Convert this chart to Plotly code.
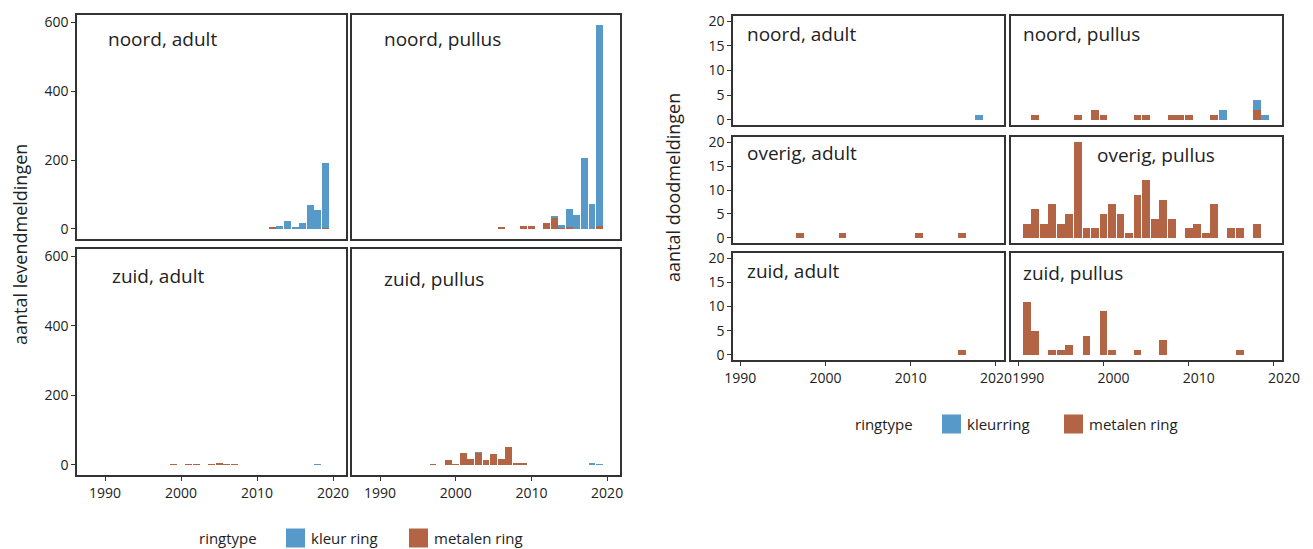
import plotly.graph_objects as go

W, H = 1313, 549
OFF = 8  # the page body adds an 8px margin around the figure
BLUE = "#5799C9"
BROWN = "#B36444"
INK = "#222222"
FONT = "Open Sans"

# ---------------- data: levendmeldingen (left block) ----------------
lev_noord_adult_kleur_years = [2013, 2014, 2015, 2016, 2017, 2018, 2019]
lev_noord_adult_kleur = [8, 22, 6, 18, 70, 56, 190]
lev_noord_adult_metaal_years = [2012, 2019]
lev_noord_adult_metaal = [4, 2]

lev_noord_pullus_kleur_years = [2013, 2014, 2015, 2016, 2017, 2018, 2019]
lev_noord_pullus_kleur = [3, 10, 54, 39, 207, 73, 585]
lev_noord_pullus_metaal_years = [2006, 2009, 2010, 2012, 2013, 2014, 2015, 2019]
lev_noord_pullus_metaal = [3, 7, 7, 16, 34, 2, 5, 7]

lev_zuid_adult_kleur_years = [2018]
lev_zuid_adult_kleur = [1]
lev_zuid_adult_metaal_years = [1999, 2001, 2002, 2004, 2005, 2006, 2007]
lev_zuid_adult_metaal = [1, 2, 1, 1, 3, 2, 1]

lev_zuid_pullus_kleur_years = [2003, 2018, 2019]
lev_zuid_pullus_kleur = [2, 3, 1]
lev_zuid_pullus_metaal_years = [1997, 1999, 2000, 2001, 2002, 2003, 2004, 2005, 2006, 2007, 2008, 2009]
lev_zuid_pullus_metaal = [2, 14, 2, 34, 16, 34, 13, 31, 16, 51, 5, 5]

# ---------------- data: doodmeldingen (right block) ----------------
dood_noord_adult_kleur_years = [2018]
dood_noord_adult_kleur = [1]
dood_noord_adult_metaal_years = []
dood_noord_adult_metaal = []

dood_noord_pullus_kleur_years = [2014, 2018, 2019]
dood_noord_pullus_kleur = [2, 2, 1]
dood_noord_pullus_metaal_years = [1992, 1997, 1999, 2000, 2004, 2005, 2008, 2009, 2010, 2013, 2018]
dood_noord_pullus_metaal = [1, 1, 2, 1, 1, 1, 1, 1, 1, 1, 2]

dood_overig_adult_kleur_years = []
dood_overig_adult_kleur = []
dood_overig_adult_metaal_years = [1997, 2002, 2011, 2016]
dood_overig_adult_metaal = [1, 1, 1, 1]

dood_overig_pullus_kleur_years = []
dood_overig_pullus_kleur = []
dood_overig_pullus_metaal_years = [1991, 1992, 1993, 1994, 1995, 1996, 1997, 1998, 1999, 2000, 2001,
                                   2002, 2003, 2004, 2005, 2006, 2007, 2008, 2010, 2011, 2012, 2013,
                                   2015, 2016, 2018]
dood_overig_pullus_metaal = [3, 6, 3, 7, 3, 5, 20, 2, 2, 5, 7,
                             5, 1, 9, 12, 4, 8, 4, 2, 3, 1, 7,
                             2, 2, 3]

dood_zuid_adult_kleur_years = []
dood_zuid_adult_kleur = []
dood_zuid_adult_metaal_years = [2016]
dood_zuid_adult_metaal = [1]

dood_zuid_pullus_kleur_years = []
dood_zuid_pullus_kleur = []
dood_zuid_pullus_metaal_years = [1991, 1992, 1994, 1995, 1996, 1998, 2000, 2001, 2004, 2007, 2016]
dood_zuid_pullus_metaal = [11, 5, 1, 1, 2, 4, 9, 1, 1, 3, 1]

x_ticks = [1990, 2000, 2010, 2020]
lev_y_ticks = [0, 200, 400, 600]
dood_y_ticks = [0, 5, 10, 15, 20]
legend_title = "ringtype"
lev_legend_labels = ["kleur ring", "metalen ring"]
dood_legend_labels = ["kleurring", "metalen ring"]


def fx(p):
    return (p - OFF) / W


def fy(p):
    return 1 - (p - OFF) / H


# (label, kleur years, kleur, metaal years, metaal, x0, x1, y0, y1 [px],
#  show x ticks, show y ticks, block, label pos [px], x tick label shift [px])
panels = [
    ("noord, adult", lev_noord_adult_kleur_years, lev_noord_adult_kleur,
     lev_noord_adult_metaal_years, lev_noord_adult_metaal,
     77, 346, 15, 239, False, True, "lev", (106, 39), 0),
    ("noord, pullus", lev_noord_pullus_kleur_years, lev_noord_pullus_kleur,
     lev_noord_pullus_metaal_years, lev_noord_pullus_metaal,
     352, 620, 15, 239, False, False, "lev", (382, 39), 0),
    ("zuid, adult", lev_zuid_adult_kleur_years, lev_zuid_adult_kleur,
     lev_zuid_adult_metaal_years, lev_zuid_adult_metaal,
     77, 346, 249, 475, True, True, "lev", (110, 276), 0),
    ("zuid, pullus", lev_zuid_pullus_kleur_years, lev_zuid_pullus_kleur,
     lev_zuid_pullus_metaal_years, lev_zuid_pullus_metaal,
     352, 620, 249, 475, True, False, "lev", (382, 279), 0),
    ("noord, adult", dood_noord_adult_kleur_years, dood_noord_adult_kleur,
     dood_noord_adult_metaal_years, dood_noord_adult_metaal,
     733, 1004, 16, 125, False, True, "dood", (745, 34), 0),
    ("noord, pullus", dood_noord_pullus_kleur_years, dood_noord_pullus_kleur,
     dood_noord_pullus_metaal_years, dood_noord_pullus_metaal,
     1011, 1282, 16, 125, False, False, "dood", (1021, 34), 0),
    ("overig, adult", dood_overig_adult_kleur_years, dood_overig_adult_kleur,
     dood_overig_adult_metaal_years, dood_overig_adult_metaal,
     733, 1004, 137, 243, False, True, "dood", (745, 153), 0),
    ("overig, pullus", dood_overig_pullus_kleur_years, dood_overig_pullus_kleur,
     dood_overig_pullus_metaal_years, dood_overig_pullus_metaal,
     1011, 1282, 137, 243, False, False, "dood", (1095, 155), 0),
    ("zuid, adult", dood_zuid_adult_kleur_years, dood_zuid_adult_kleur,
     dood_zuid_adult_metaal_years, dood_zuid_adult_metaal,
     733, 1004, 253, 360, True, True, "dood", (745, 271), 0),
    ("zuid, pullus", dood_zuid_pullus_kleur_years, dood_zuid_pullus_kleur,
     dood_zuid_pullus_metaal_years, dood_zuid_pullus_metaal,
     1011, 1282, 253, 360, True, False, "dood", (1021, 273), 10),
]

fig = go.Figure()
annotations = []
shapes = []

for i, (label, ky, kv, my, mv, x0, x1, y0, y1, show_x, show_y, block, lpos, xshift) in enumerate(panels):
    n = i + 1
    xa = "x" if n == 1 else f"x{n}"
    ya = "y" if n == 1 else f"y{n}"
    xkey = "xaxis" if n == 1 else f"xaxis{n}"
    ykey = "yaxis" if n == 1 else f"yaxis{n}"

    fig.add_trace(go.Bar(x=my, y=mv, marker=dict(color=BROWN, line=dict(width=0)),
                         width=0.92, xaxis=xa, yaxis=ya, showlegend=False,
                         name="metalen ring"))
    fig.add_trace(go.Bar(x=ky, y=kv, marker=dict(color=BLUE, line=dict(width=0)),
                         width=0.92, xaxis=xa, yaxis=ya, showlegend=False,
                         name="kleur ring"))

    if block == "lev":
        xr = [1986.3, 2021.7]
        yr = [-29.6, 621.6]
        yt = lev_y_ticks
    else:
        xr = [1989.15, 2020.95]
        yr = [-1.05, 21.05]
        yt = dood_y_ticks

    fig.layout[xkey] = dict(
        domain=[fx(x0), fx(x1)], range=xr, anchor=ya, automargin=False,
        showline=True, mirror=True, linecolor="#333333", linewidth=1.5,
        showgrid=False, zeroline=False,
        tickvals=x_ticks, ticks="outside" if show_x else "",
        ticklen=4, tickwidth=1.2, tickcolor="#333333",
        showticklabels=show_x, ticklabelshift=xshift,
        tickfont=dict(family=FONT, size=14, color=INK),
        fixedrange=True,
    )
    fig.layout[ykey] = dict(
        domain=[fy(y1), fy(y0)], range=yr, anchor=xa, automargin=False,
        showline=True, mirror=True, linecolor="#333333", linewidth=1.5,
        showgrid=False, zeroline=False,
        tickvals=yt, ticks="outside" if show_y else "",
        ticklen=4, tickwidth=1.2, tickcolor="#333333",
        showticklabels=show_y,
        tickfont=dict(family=FONT, size=14, color=INK),
        fixedrange=True,
    )
    annotations.append(dict(
        text=label, x=fx(lpos[0]), y=fy(lpos[1]), xref="paper", yref="paper",
        xanchor="left", yanchor="middle", showarrow=False,
        font=dict(family=FONT, size=19, color=INK),
    ))

annotations.append(dict(text="aantal levendmeldingen", x=fx(20), y=fy(245),
                        xref="paper", yref="paper", textangle=-90, showarrow=False,
                        xanchor="center", yanchor="middle",
                        font=dict(family=FONT, size=18, color=INK)))
annotations.append(dict(text="aantal doodmeldingen", x=fx(673), y=fy(188),
                        xref="paper", yref="paper", textangle=-90, showarrow=False,
                        xanchor="center", yanchor="middle",
                        font=dict(family=FONT, size=18, color=INK)))


def legend(title_x, items, y_mid, sq):
    annotations.append(dict(text=legend_title, x=fx(title_x), y=fy(y_mid), xref="paper",
                            yref="paper", xanchor="left", yanchor="middle", showarrow=False,
                            font=dict(family=FONT, size=15, color=INK)))
    for (sx, label, color) in items:
        shapes.append(dict(type="rect", xref="paper", yref="paper",
                           x0=fx(sx), x1=fx(sx + sq), y0=fy(y_mid + sq / 2), y1=fy(y_mid - sq / 2),
                           fillcolor=color, line=dict(width=0)))
        annotations.append(dict(text=label, x=fx(sx + sq + 4), y=fy(y_mid), xref="paper",
                                yref="paper", xanchor="left", yanchor="middle", showarrow=False,
                                font=dict(family=FONT, size=15, color=INK)))


legend(197, [(286, lev_legend_labels[0], BLUE), (409, lev_legend_labels[1], BROWN)], 538, 19)
legend(853, [(942, dood_legend_labels[0], BLUE), (1064, dood_legend_labels[1], BROWN)], 424, 19)

fig.update_layout(
    width=W, height=H, margin=dict(l=0, r=0, t=0, b=0, pad=0, autoexpand=False),
    paper_bgcolor="white", plot_bgcolor="white",
    barmode="stack", bargap=0,
    annotations=annotations, shapes=shapes,
    font=dict(family=FONT, color=INK),
)

fig.write_html("out.html")
